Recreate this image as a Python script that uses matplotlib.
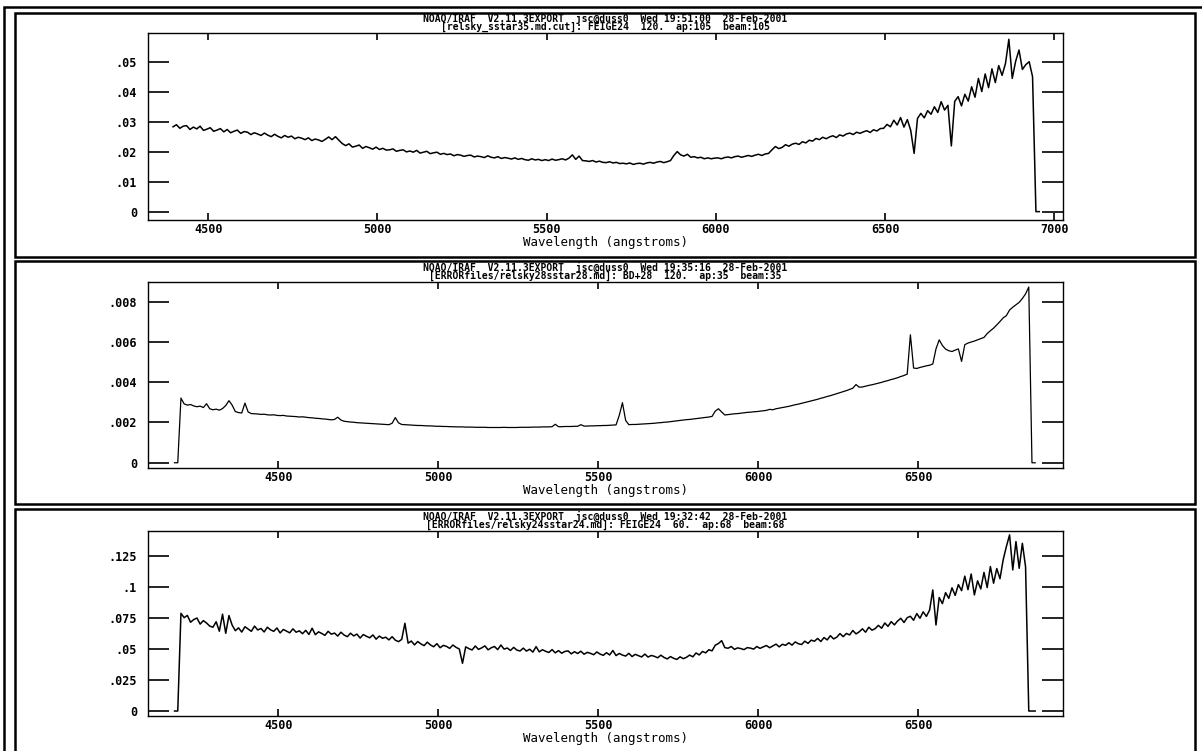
import matplotlib
matplotlib.use('Agg')
import matplotlib.pyplot as plt
from matplotlib.patches import Rectangle
import numpy as np

W, H = 1202, 751

# relsky_sstar35.md.cut  (FEIGE24), flux in units of 1e-3, 10 A sampling
w0_1, dw_1 = 4396, 10
flux_1 = [
    28.4, 29.1, 27.9, 28.6, 28.8, 27.5, 28.3, 27.7, 28.6, 27.2,
    27.6, 28.1, 26.9, 27.3, 27.8, 26.7, 27.5, 26.4, 26.9, 27.3,
    26.2, 26.8, 26.6, 25.8, 26.4, 26.0, 25.5, 26.3, 25.6, 25.1,
    25.9, 25.2, 24.7, 25.5, 24.9, 25.3, 24.4, 24.9, 24.6, 24.1,
    24.7, 23.8, 24.3, 24.0, 23.5, 24.2, 25.0, 24.1, 25.1, 23.9,
    22.8, 22.1, 22.7, 21.6, 21.9, 22.3, 21.2, 21.8, 21.4, 20.9,
    21.6, 20.8, 21.2, 20.6, 20.7, 21.0, 20.2, 20.5, 20.7, 20.0,
    20.3, 19.9, 20.5, 19.6, 19.9, 20.2, 19.4, 19.7, 19.9, 19.2,
    19.5, 19.1, 19.3, 18.7, 19.1, 18.9, 18.5, 18.8, 18.9, 18.3,
    18.6, 18.4, 18.1, 18.7, 18.2, 18.0, 18.4, 17.8, 18.1, 17.9,
    17.6, 18.0, 17.5, 17.8, 17.4, 17.2, 17.7, 17.3, 17.5, 17.1,
    17.4, 17.1, 17.6, 17.2, 17.4, 17.7, 17.3, 17.9, 19.0, 17.5,
    18.6, 17.1, 17.0, 16.8, 17.1, 16.6, 16.9, 16.5, 16.4, 16.7,
    16.3, 16.5, 16.1, 16.2, 16.0, 16.3, 15.8, 16.1, 16.2, 15.9,
    16.3, 16.5, 16.2, 16.6, 16.8, 16.4, 16.7, 17.1, 18.8, 20.1,
    19.0, 18.6, 19.2, 18.2, 18.4, 18.0, 18.2, 17.7, 18.0, 17.7,
    17.9, 18.0, 17.7, 18.1, 18.3, 18.0, 18.4, 18.6, 18.2, 18.5,
    18.8, 18.5, 18.9, 19.2, 18.8, 19.3, 19.5, 20.7, 21.8, 21.1,
    21.5, 22.4, 21.9, 22.6, 22.9, 22.5, 23.4, 23.0, 23.9, 23.6,
    24.5, 24.1, 24.9, 24.4, 25.0, 25.4, 24.8, 25.7, 25.3, 26.0,
    26.3, 25.8, 26.6, 26.2, 26.7, 27.1, 26.5, 27.4, 27.0, 27.8,
    27.9, 29.2, 28.4, 30.6, 29.0, 31.5, 28.3, 30.8, 27.2, 19.5,
    31.2, 32.9, 31.4, 33.8, 32.6, 35.1, 33.2, 36.8, 34.0, 35.6,
    22.0, 36.9, 38.5, 35.4, 39.3, 37.0, 41.8, 38.3, 44.6, 40.2,
    46.1, 41.5, 47.8, 43.2, 48.9, 45.6, 49.6, 57.7, 44.6, 50.3,
    54.1, 47.6, 49.2, 50.2, 45.2, 0.0, 0.0,
]

# ERRORfiles/relsky28sstar28.md  (BD+28), flux in units of 1e-4
w0_2, dw_2 = 4176, 10
flux_2 = [
    0.0, 0.0, 32.1, 29.2, 28.6, 28.9, 28.2, 27.8, 28.1, 27.4,
    29.3, 26.8, 26.3, 26.6, 26.1, 26.9, 28.4, 30.8, 28.6, 25.4,
    24.9, 24.7, 29.6, 25.2, 24.4, 24.3, 24.2, 24.0, 24.1, 23.8,
    23.7, 23.8, 23.5, 23.4, 23.5, 23.2, 23.1, 23.0, 22.9, 22.7,
    22.8, 22.6, 22.4, 22.3, 22.1, 22.0, 21.8, 21.7, 21.5, 21.3,
    21.5, 22.6, 21.2, 20.6, 20.4, 20.2, 20.1, 19.9, 19.8, 19.7,
    19.6, 19.5, 19.4, 19.3, 19.2, 19.1, 19.0, 18.9, 19.6, 22.4,
    19.8, 19.0, 18.9, 18.8, 18.7, 18.6, 18.5, 18.5, 18.4, 18.3,
    18.3, 18.2, 18.1, 18.1, 18.0, 18.0, 17.9, 17.9, 17.8, 17.8,
    17.8, 17.7, 17.7, 17.7, 17.6, 17.6, 17.6, 17.6, 17.5, 17.5,
    17.5, 17.5, 17.5, 17.6, 17.5, 17.5, 17.5, 17.5, 17.6, 17.6,
    17.6, 17.6, 17.7, 17.7, 17.7, 17.8, 17.8, 17.8, 17.9, 19.1,
    17.9, 17.9, 18.0, 18.0, 18.0, 18.1, 18.1, 18.9, 18.2, 18.2,
    18.3, 18.3, 18.4, 18.4, 18.5, 18.5, 18.6, 18.7, 18.8, 23.5,
    29.8, 21.0, 18.9, 19.0, 19.0, 19.1, 19.2, 19.3, 19.4, 19.5,
    19.6, 19.8, 19.9, 20.1, 20.2, 20.4, 20.6, 20.8, 21.0, 21.2,
    21.4, 21.5, 21.7, 21.9, 22.1, 22.3, 22.5, 22.7, 23.0, 25.6,
    26.8, 25.2, 23.7, 23.9, 24.1, 24.3, 24.4, 24.6, 24.8, 25.0,
    25.1, 25.3, 25.4, 25.6, 25.8, 26.0, 26.5, 26.3, 26.8, 27.1,
    27.4, 27.7, 28.0, 28.4, 28.8, 29.1, 29.5, 29.9, 30.3, 30.7,
    31.1, 31.5, 32.0, 32.4, 32.9, 33.3, 33.8, 34.3, 34.8, 35.3,
    35.8, 36.4, 37.0, 38.8, 37.5, 37.6, 38.0, 38.4, 38.7, 39.1,
    39.5, 39.9, 40.4, 40.8, 41.3, 41.7, 42.2, 42.8, 43.3, 44.0,
    63.5, 47.0, 46.8, 47.3, 47.7, 48.1, 48.4, 49.0, 56.5, 61.0,
    58.2, 56.4, 55.6, 55.2, 55.9, 56.5, 50.3, 58.6, 59.4, 59.9,
    60.4, 61.0, 61.6, 62.2, 64.1, 65.5, 66.8, 68.4, 70.1, 71.9,
    73.0, 75.8, 77.2, 78.4, 79.6, 81.5, 83.8, 87.2, 0.0, 0.0,
]

# ERRORfiles/relsky24sstar24.md  (FEIGE24), flux in units of 1e-3
w0_3, dw_3 = 4176, 10
flux_3 = [
    0.0, 0.0, 78.6, 75.1, 76.9, 71.4, 73.6, 74.8, 69.9, 72.7,
    70.8, 68.3, 67.4, 71.8, 64.2, 77.9, 62.5, 76.8, 69.1, 64.6,
    66.9, 63.5, 67.8, 65.9, 64.1, 68.3, 65.2, 66.4, 63.6, 67.4,
    65.3, 64.1, 66.8, 62.8, 65.6, 64.3, 62.9, 66.1, 63.4, 64.5,
    62.2, 64.9, 61.6, 66.6, 61.4, 63.7, 62.4, 60.9, 64.1, 61.8,
    62.7, 60.3, 63.4, 61.1, 59.8, 62.6, 60.4, 61.9, 58.7, 61.5,
    60.1, 58.9, 61.2, 57.8, 60.3, 58.5, 59.4, 57.2, 59.8, 57.0,
    55.8, 57.6, 70.6, 54.6, 56.3, 53.2, 55.9, 54.0, 52.6, 55.4,
    53.1, 51.7, 54.2, 50.9, 52.8, 52.0, 50.4, 53.1, 51.2, 49.9,
    38.4, 51.6, 50.2, 49.1, 52.3, 49.6, 50.8, 52.4, 49.2, 50.9,
    51.9, 49.4, 53.1, 49.8, 50.7, 48.7, 51.2, 49.0, 48.3, 50.6,
    48.2, 49.7, 47.4, 51.8, 47.6, 49.3, 48.0, 47.1, 49.4, 46.8,
    48.6, 46.5, 47.9, 48.4, 46.0, 47.7, 46.3, 48.1, 45.7, 47.2,
    46.4, 45.3, 47.5, 45.8, 44.8, 46.9, 45.1, 48.7, 44.6, 46.3,
    45.0, 44.2, 46.4, 43.8, 45.6, 44.5, 43.5, 45.8, 43.4, 44.7,
    44.0, 42.8, 44.9, 43.1, 41.9, 43.8, 42.4, 41.5, 43.6, 42.1,
    43.2, 45.0, 43.6, 46.7, 45.1, 47.9, 46.8, 49.3, 48.4, 52.9,
    54.3, 56.6, 51.0, 50.5, 51.9, 49.6, 50.8, 50.2, 49.4, 51.0,
    50.6, 49.8, 51.9, 50.4, 51.6, 52.7, 50.9, 52.3, 53.8, 51.6,
    53.7, 52.8, 54.9, 53.0, 55.6, 54.1, 53.5, 56.2, 54.4, 57.0,
    56.1, 58.4, 55.9, 59.1, 57.2, 60.6, 58.0, 59.4, 62.3, 59.8,
    62.4, 61.2, 64.8, 62.0, 63.7, 66.1, 63.4, 67.4, 65.0, 66.3,
    68.9, 66.6, 70.8, 68.1, 71.9, 69.3, 72.4, 74.6, 71.2, 75.1,
    76.2, 73.0, 78.4, 74.6, 79.8, 76.1, 81.2, 97.4, 69.2, 91.3,
    86.4, 95.2, 90.6, 99.1, 93.0, 101.7, 96.8, 108.5, 97.6, 110.2,
    93.4, 104.7, 98.2, 111.5, 99.3, 116.2, 102.8, 114.6, 106.4, 121.6,
    132.3, 141.7, 113.5, 136.3, 114.8, 134.9, 116.0, 0.0, 0.0, 0.0,
]

headers = [
    "NOAO/IRAF  V2.11.3EXPORT  jsc@duss0  Wed 19:51:00  28-Feb-2001",
    "NOAO/IRAF  V2.11.3EXPORT  jsc@duss0  Wed 19:35:16  28-Feb-2001",
    "NOAO/IRAF  V2.11.3EXPORT  jsc@duss0  Wed 19:32:42  28-Feb-2001",
]
objects = [
    "[relsky_sstar35.md.cut]: FEIGE24  120.  ap:105  beam:105",
    "[ERRORfiles/relsky28sstar28.md]: BD+28  120.  ap:35  beam:35",
    "[ERRORfiles/relsky24sstar24.md]: FEIGE24  60.  ap:68  beam:68",
]

xticks_1 = [4500, 5000, 5500, 6000, 6500, 7000]
xticks_23 = [4500, 5000, 5500, 6000, 6500]
yticks_1 = [0, .01, .02, .03, .04, .05]
ylabels_1 = ['0', '.01', '.02', '.03', '.04', '.05']
yticks_2 = [0, .002, .004, .006, .008]
ylabels_2 = ['0', '.002', '.004', '.006', '.008']
yticks_3 = [0, .025, .05, .075, .1, .125]
ylabels_3 = ['0', '.025', '.05', '.075', '.1', '.125']

plt.rcParams['font.family'] = ['DejaVu Sans Mono']
plt.rcParams['font.weight'] = 'bold'

fig = plt.figure(figsize=(W / 100, H / 100), dpi=100)


def px_box(x0, y0, x1, y1):
    # pixel box (top-left origin) -> figure fraction [left, bottom, width, height]
    return [x0 / W, 1 - y1 / H, (x1 - x0) / W, (y1 - y0) / H]


# outer frame and the three panel boxes (bottom panel runs off the page)
frames = [(4, 7, 1230, 790), (15, 13, 1195, 257), (15, 261, 1195, 504), (15, 509, 1195, 790)]
for x0, y0, x1, y1 in frames:
    l, b, w, h = px_box(x0, y0, x1, y1)
    fig.add_artist(Rectangle((l, b), w, h, transform=fig.transFigure,
                             fill=False, ec='black', lw=1.8))

panels = [
    dict(box=(148, 33, 1063, 220), w0=w0_1, dw=dw_1, flux=np.array(flux_1) * 1e-3,
         xlim=(4322, 7026), ylim=(-0.0028, 0.0598), xt=xticks_1,
         yt=yticks_1, yl=ylabels_1, lw=1.1),
    dict(box=(148, 282, 1063, 468), w0=w0_2, dw=dw_2, flux=np.array(flux_2) * 1e-4,
         xlim=(4093, 6953), ylim=(-0.00026, 0.00897), xt=xticks_23,
         yt=yticks_2, yl=ylabels_2, lw=0.9),
    dict(box=(148, 531, 1063, 716), w0=w0_3, dw=dw_3, flux=np.array(flux_3) * 1e-3,
         xlim=(4093, 6953), ylim=(-0.0040, 0.1448), xt=xticks_23,
         yt=yticks_3, yl=ylabels_3, lw=1.1),
]

for i, p in enumerate(panels):
    ax = fig.add_axes(px_box(*p['box']))
    wave = p['w0'] + p['dw'] * np.arange(len(p['flux']))
    ax.plot(wave, p['flux'], color='black', lw=p['lw'])
    ax.set_xlim(*p['xlim'])
    ax.set_ylim(*p['ylim'])
    ax.set_xticks(p['xt'])
    ax.set_xticklabels([str(t) for t in p['xt']])
    ax.set_yticks(p['yt'])
    ax.set_yticklabels(p['yl'])
    ax.tick_params(axis='both', direction='in', top=True, right=True,
                   width=1.2, labelsize=8.5, color='black')
    ax.tick_params(axis='x', length=5, pad=2.5)
    ax.tick_params(axis='y', length=15, pad=8)
    for s in ax.spines.values():
        s.set_linewidth(1.0)
    ax.set_xlabel('Wavelength (angstroms)', fontsize=9, labelpad=0)

    # two-line IRAF plot header above the axes
    for text, dy in ((headers[i], 8.0), (objects[i], 2.3)):
        ax.annotate(text, xy=(0.5, 1), xycoords='axes fraction',
                    xytext=(0, dy), textcoords='offset points',
                    ha='center', va='baseline', fontsize=7)

fig.savefig('out.png', dpi=100)
